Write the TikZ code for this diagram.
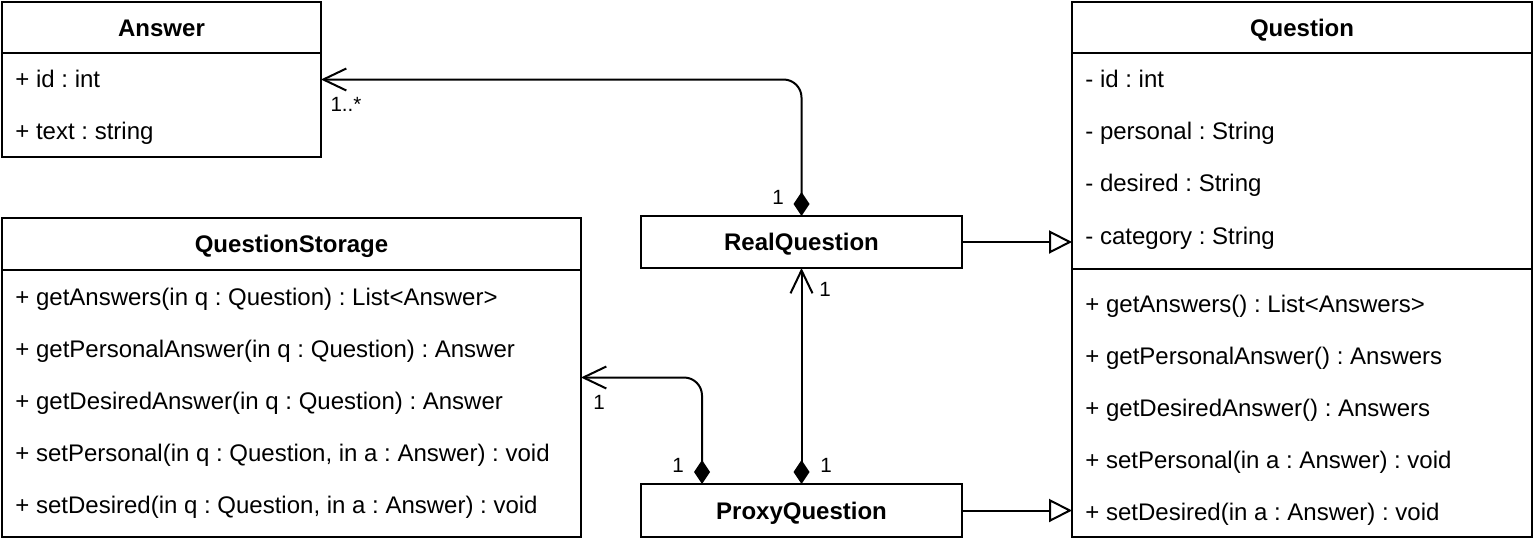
\documentclass[tikz,border=0pt]{standalone}
\usepackage{fontspec}
\setmainfont{Liberation Sans}
\usetikzlibrary{arrows.meta,calc}
\frenchspacing
\tikzset{
  umlbox/.style={draw, line width=1pt, inner sep=0pt, outer sep=0pt, anchor=north west},
  item/.style={anchor=base west, inner sep=0pt, font=\fontsize{12pt}{14pt}\selectfont},
  title/.style={anchor=base, inner sep=0pt, font=\fontsize{12pt}{14pt}\selectfont\bfseries},
  mult/.style={inner sep=0pt, font=\fontsize{10.3pt}{12pt}\selectfont},
  sep/.style={line width=1pt},
  comp/.style={line width=1pt, {Diamond[length=12pt,width=8pt]}-{Straight Barb[length=11.5pt,width=11pt]}},
  gen/.style={line width=1pt, -{Triangle[open,length=11.5pt,width=11.5pt,fill=white]}}
}
\begin{document}
\begin{tikzpicture}[x=0.5pt,y=-0.5pt]
\useasboundingbox (0,0) rectangle (1535,546);
% Answer
\node[umlbox, minimum width=159.5pt, minimum height=77.5pt] (ans) at (2,2) {};
\draw[sep] (2,53) -- (321,53);
\node[title] (ansT) at (161.5,36) {Answer};
\node[item] (ans1) at (15,87) {+ id : int};
\node[item] (ans2) at (15,139) {+ text : string};
% Question
\node[umlbox, minimum width=230pt, minimum height=267.5pt] (q) at (1072,2) {};
\draw[sep] (1072,53) -- (1532,53);
\draw[sep] (1072,269) -- (1532,269);
\node[title] (qT) at (1302,36) {Question};
\node[item] (q1) at (1085,87) {- id : int};
\node[item] (q2) at (1085,139) {- personal : String};
\node[item] (q3) at (1085,191) {- desired : String};
\node[item] (q4) at (1085,244) {- category : String};
\node[item] (q5) at (1085,312) {+ getAnswers() : List<Answers>};
\node[item] (q6) at (1085,364) {+ getPersonalAnswer() : Answers};
\node[item] (q7) at (1085,416) {+ getDesiredAnswer() : Answers};
\node[item] (q8) at (1085,468) {+ setPersonal(in a : Answer) : void};
\node[item] (q9) at (1085,520) {+ setDesired(in a : Answer) : void};
% QuestionStorage
\node[umlbox, minimum width=289.5pt, minimum height=159.5pt] (st) at (2,218) {};
\draw[sep] (2,270) -- (581,270);
\node[title] (stT) at (291.5,252) {QuestionStorage};
\node[item] (s1) at (15,305) {+ getAnswers(in q : Question) : List<Answer>};
\node[item] (s2) at (15,357) {+ getPersonalAnswer(in q : Question) : Answer};
\node[item] (s3) at (15,409) {+ getDesiredAnswer(in q : Question) : Answer};
\node[item] (s4) at (15,461) {+ setPersonal(in q : Question, in a : Answer) : void};
\node[item] (s5) at (15,513) {+ setDesired(in q : Question, in a : Answer) : void};
% RealQuestion / ProxyQuestion
\node[umlbox, minimum width=160.5pt, minimum height=26pt] (real) at (641,216) {};
\node[title] (realT) at (801.5,250) {RealQuestion};
\node[umlbox, minimum width=160.5pt, minimum height=26.5pt] (proxy) at (641,484) {};
\node[title] (proxyT) at (801.5,519) {ProxyQuestion};
% connectors
\draw[comp, rounded corners=9pt] (real.north) |- (ans.east);
\draw[comp, rounded corners=9pt] ($(proxy.north west)+(61,0)$) |- (st.east);
\draw[comp] (proxy.north) -- (real.south);
\draw[gen] (real.east) -- (real.east -| q.west);
\draw[gen] (proxy.east) -- (proxy.east -| q.west);
% multiplicities
\node[mult] (m1) at (346,104) {1..*};
\node[mult] (m2) at (778,197) {1};
\node[mult] (m3) at (825,289) {1};
\node[mult] (m4) at (599,402) {1};
\node[mult] (m5) at (678,465) {1};
\node[mult] (m6) at (826,465) {1};
\end{tikzpicture}
\end{document}
